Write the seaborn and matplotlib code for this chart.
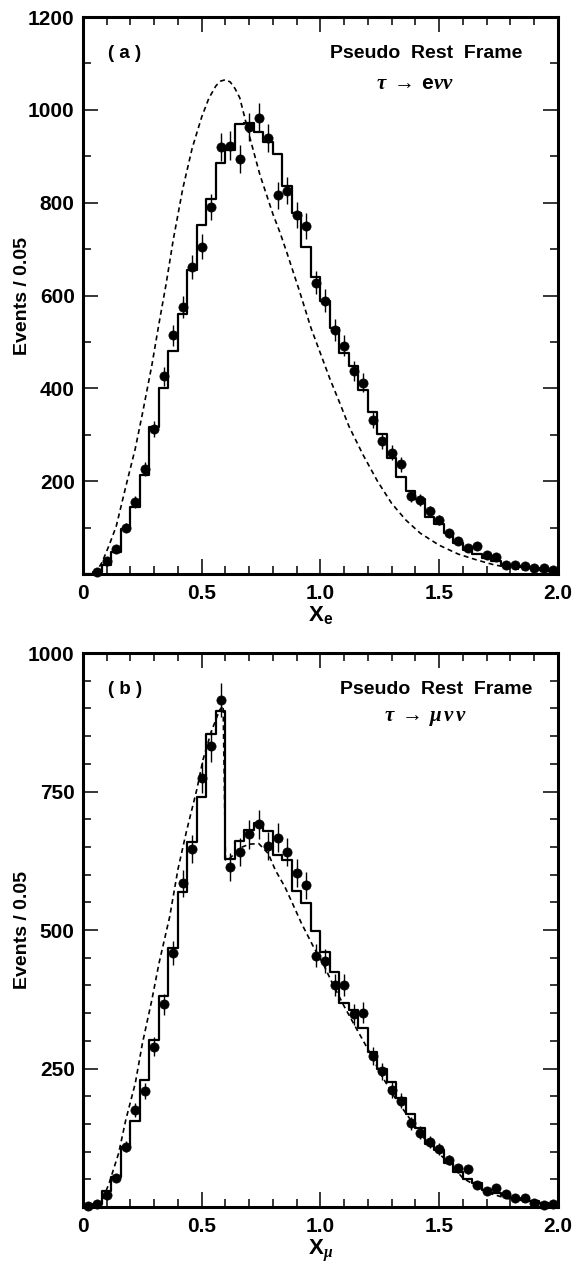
import numpy as np
import pandas as pd
import matplotlib
matplotlib.use("Agg")
import matplotlib.pyplot as plt
from matplotlib.ticker import MultipleLocator, FixedLocator, FixedFormatter
import seaborn as sns

# Bins de 0.04 en X (0 - 2.0)
bordes = np.arange(0, 2.0001, 0.04)
centros = bordes[:-1] + 0.02

# ---- Panel (a): tau -> e nu nu ----
mc_a = [0, 4, 20, 47, 98, 144, 214, 316, 400, 480,
        561, 655, 753, 807, 885, 914, 969, 972, 952, 930,
        904, 835, 777, 704, 640, 588, 530, 476, 448, 396,
        349, 302, 250, 210, 179, 162, 122, 107, 88, 67,
        51, 44, 35, 29, 20, 17, 15, 12, 9, 7]
# datos desde x = 0.06
datos_a = [5, 29, 55, 100, 155, 227, 313, 426, 514,
           575, 661, 705, 791, 920, 923, 894, 963, 983, 939,
           816, 826, 773, 750, 628, 589, 526, 492, 437, 412,
           332, 286, 261, 236, 169, 159, 135, 117, 88, 71,
           56, 60, 40, 36, 19, 19, 17, 12, 13, 9]
curva_a_x = [0.05, 0.08, 0.11, 0.14, 0.18, 0.22, 0.25, 0.29, 0.32, 0.35,
             0.38, 0.42, 0.46, 0.50, 0.53, 0.56, 0.58, 0.60, 0.62, 0.64,
             0.66, 0.70, 0.745, 0.80, 0.83, 0.86, 0.91, 0.96, 1.00, 1.04,
             1.08, 1.12, 1.18, 1.24, 1.30, 1.36, 1.42, 1.50, 1.58, 1.66,
             1.73, 1.80, 1.87, 1.94, 2.00]
curva_a_y = [0, 25, 62, 103, 188, 270, 345, 450, 540, 625,
             720, 830, 918, 985, 1025, 1052, 1062, 1065, 1060, 1046,
             1026, 945, 860, 775, 735, 690, 612, 530, 475, 420,
             370, 318, 256, 200, 152, 116, 88, 62, 43, 30,
             20, 13, 8, 5, 3]

# ---- Panel (b): tau -> mu nu nu ----
mc_b = [0, 5, 28, 55, 109, 155, 230, 301, 380, 468,
        569, 658, 740, 853, 895, 628, 661, 680, 694, 679,
        635, 626, 571, 549, 498, 461, 425, 369, 356, 323,
        280, 250, 225, 196, 168, 142, 114, 103, 79, 64,
        50, 43, 31, 26, 22, 17, 13, 10, 7, 5]
datos_b = [1, 5, 22, 53, 109, 175, 210, 289, 366, 458,
           584, 646, 775, 833, 915, 614, 640, 673, 691, 652,
           667, 640, 603, 581, 454, 444, 401, 400, 348, 351,
           273, 245, 211, 192, 151, 134, 118, 105, 85, 70,
           68, 40, 28, 35, 23, 17, 16, 7, 4, 5]
curva_b_x = [0.07, 0.11, 0.15, 0.18, 0.22, 0.25, 0.29, 0.32, 0.365, 0.40,
             0.435, 0.48, 0.505, 0.54, 0.575, 0.59, 0.60, 0.62, 0.66, 0.70,
             0.74, 0.78, 0.81, 0.85, 0.88, 0.92, 0.97, 1.01, 1.05, 1.10,
             1.15, 1.21, 1.26, 1.32, 1.38, 1.43, 1.49, 1.55, 1.60, 1.66,
             1.71, 1.78, 1.85, 1.94, 2.00]
curva_b_y = [0, 43, 97, 157, 223, 295, 374, 440, 524, 610,
             677, 755, 807, 858, 897, 905, 626, 630, 648, 655,
             656, 638, 608, 578, 550, 512, 470, 440, 404, 362,
             323, 277, 235, 193, 157, 127, 100, 76, 52, 37,
             25, 16, 10, 5, 3]

sns.set_style("ticks")
plt.rcParams['font.family'] = ['Liberation Sans', 'DejaVu Sans']
plt.rcParams['font.weight'] = 'bold'
plt.rcParams['text.color'] = 'black'
plt.rcParams['axes.labelcolor'] = 'black'
plt.rcParams['xtick.color'] = 'black'
plt.rcParams['ytick.color'] = 'black'
plt.rcParams['mathtext.fontset'] = 'custom'
plt.rcParams['mathtext.rm'] = 'Liberation Sans'
plt.rcParams['mathtext.bf'] = 'Liberation Sans:bold'
plt.rcParams['mathtext.it'] = 'Liberation Serif:italic'

fig = plt.figure(figsize=(5.74, 12.7), dpi=100)
ax1 = fig.add_axes([0.1446, 0.548, 0.8275, 0.4386])
ax2 = fig.add_axes([0.1446, 0.0496, 0.8275, 0.4362])

paneles = [
    (ax1, mc_a, centros[1:], datos_a, curva_a_x, curva_a_y, 1200, 200, 100,
     '( a )', r'$\tau\;\rightarrow\;\mathbf{e}\nu\nu$', r'$\mathbf{X_e}$', 0.924),
    (ax2, mc_b, centros, datos_b, curva_b_x, curva_b_y, 1000, 250, 50,
     '( b )', r'$\tau\;\rightarrow\;\mu\,\nu\,\nu$', r'$\mathbf{X}_{\mu}$', 0.947),
]

for (ax, mc, xd, yd, cx, cy, ymax, ymaj, ymin, etiqueta, proceso,
     xlab, xtexto) in paneles:
    # Monte Carlo como histograma
    hist_df = pd.DataFrame({'x': centros, 'n': mc})
    sns.histplot(data=hist_df, x='x', weights='n', bins=list(bordes),
                 element='step', fill=False, color='black', linewidth=1.6,
                 ax=ax)
    # Curva del marco de reposo
    sns.lineplot(x=cx, y=cy, color='black', linewidth=1.2,
                 linestyle=(0, (3, 2.2)), ax=ax)
    # Datos con barras de error
    yd = np.array(yd, dtype=float)
    ax.errorbar(xd, yd, yerr=np.sqrt(yd), fmt='none', ecolor='black',
                elinewidth=1.0, capsize=0, zorder=3)
    sns.scatterplot(x=xd, y=yd, color='black', s=44, edgecolor='black',
                    linewidth=0.5, zorder=4, clip_on=False, ax=ax)

    ax.set_xlim(0, 2.0)
    ax.set_ylim(0, ymax)
    ax.xaxis.set_major_locator(FixedLocator([0, 0.5, 1.0, 1.5, 2.0]))
    ax.xaxis.set_major_formatter(FixedFormatter(['0', '0.5', '1.0', '1.5', '2.0']))
    ax.xaxis.set_minor_locator(MultipleLocator(0.1))
    yt = list(range(ymaj, ymax + 1, ymaj))
    ax.yaxis.set_major_locator(FixedLocator(yt))
    ax.yaxis.set_major_formatter(FixedFormatter([str(v) for v in yt]))
    ax.yaxis.set_minor_locator(MultipleLocator(ymin))
    ax.tick_params(which='both', direction='in', top=True, right=True,
                   width=1.1, labelsize=15)
    ax.tick_params(which='major', length=11)
    ax.tick_params(which='minor', length=5.5)
    ax.tick_params(axis='x', pad=7)
    ax.tick_params(axis='y', pad=6)
    for lab in ax.get_xticklabels() + ax.get_yticklabels():
        lab.set_fontweight('bold')
    for sp in ax.spines.values():
        sp.set_linewidth(2.2)
        sp.set_color('black')

    ax.set_ylabel('Events / 0.05', fontsize=14, fontweight='bold')
    ax.yaxis.set_label_coords(-0.11, 0.5)
    ax.set_xlabel(xlab, fontsize=16, labelpad=1)

    ax.text(0.052, 0.934, etiqueta, transform=ax.transAxes, fontsize=13.5,
            fontweight='bold', ha='left', va='center')
    ax.text(xtexto, 0.934, 'Pseudo  Rest  Frame', transform=ax.transAxes,
            fontsize=14, fontweight='bold', ha='right', va='center')
    ax.text(xtexto - 0.225, 0.881, proceso, transform=ax.transAxes,
            fontsize=15, ha='center', va='center')

fig.savefig('out.png', dpi=100)
